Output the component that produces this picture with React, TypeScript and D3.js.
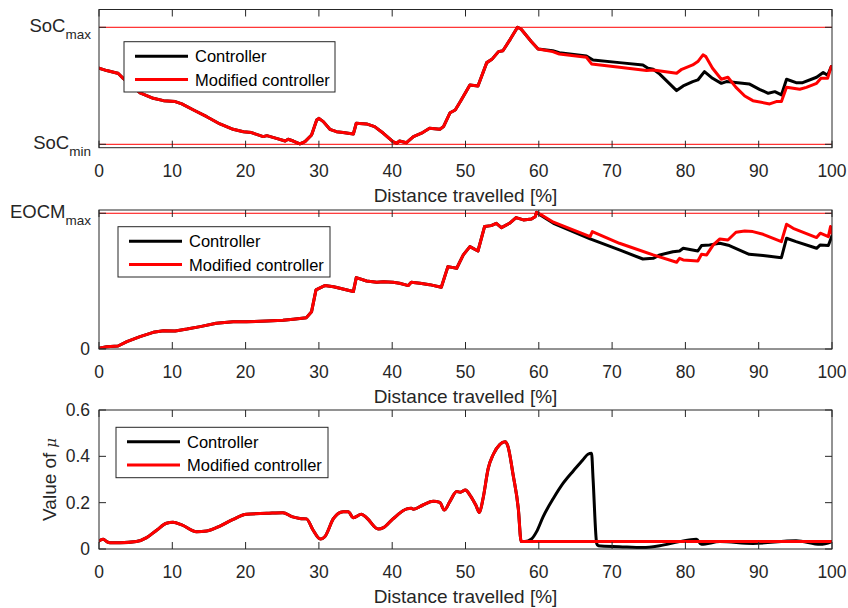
import React from "react";
import * as d3 from "d3";

type Pt = [number, number];

const xTicks = [0, 10, 20, 30, 40, 50, 60, 70, 80, 90, 100];
const legendLabels = ["Controller", "Modified controller"];
const seriesColors = ["#000000", "#ff0000"];
const xLabel = "Distance travelled [%]";

// ---- Panel 1: state of charge (SoC_min = 0, SoC_max = 1) ----
const socCommon: Pt[] = [
  [0, 0.65], [1.05, 0.63], [2.4, 0.61], [2.6, 0.607], [3.3, 0.564], [4.5, 0.5], [5.6, 0.44],
  [7.4, 0.393], [8.8, 0.373], [10.4, 0.365], [11.3, 0.345], [12.9, 0.293], [14.7, 0.236],
  [16.5, 0.174], [18.3, 0.128], [19.7, 0.108], [20.8, 0.1], [22.4, 0.066], [22.9, 0.074],
  [24.2, 0.051], [25.4, 0.028], [25.8, 0.043], [26.5, 0.028], [27.4, 0.003], [28.1, 0.023],
  [29.0, 0.08], [29.7, 0.208], [30.0, 0.222], [30.6, 0.194], [31.5, 0.128], [32.4, 0.108],
  [33.3, 0.1], [34.7, 0.088], [35.1, 0.18], [36.5, 0.174], [37.6, 0.151], [38.8, 0.094],
  [40.1, 0.023], [40.6, 0.009], [41.0, 0.028], [41.95, 0.014], [42.9, 0.066], [44.0, 0.095],
  [45.1, 0.137], [46.5, 0.128], [47.0, 0.151], [47.9, 0.27], [48.6, 0.293], [49.3, 0.365],
  [50.6, 0.507], [51.7, 0.499], [52.9, 0.698], [53.6, 0.726], [54.5, 0.792], [55.1, 0.8],
  [56.1, 0.897], [57.1, 1.0], [57.6, 0.983], [59.0, 0.877], [59.9, 0.815],
];
const socControllerTail: Pt[] = [
  [61.9, 0.8], [62.8, 0.783], [66.5, 0.755], [67.4, 0.721], [71.0, 0.698], [74.2, 0.678],
  [74.9, 0.65], [75.6, 0.641], [76.5, 0.6], [78.8, 0.459], [79.7, 0.499], [81.0, 0.536],
  [81.7, 0.55], [82.6, 0.621], [83.7, 0.564], [84.9, 0.521], [85.6, 0.536], [88.7, 0.516],
  [90.1, 0.47], [91.3, 0.436], [92.2, 0.45], [93.1, 0.422], [93.8, 0.556], [95.1, 0.527],
  [96.0, 0.527], [97.9, 0.573], [98.8, 0.613], [99.4, 0.59], [99.9, 0.664],
];
const socModifiedTail: Pt[] = [
  [61.9, 0.792], [62.8, 0.772], [66.5, 0.744], [67.2, 0.687], [71.0, 0.658], [74.7, 0.63],
  [75.6, 0.635], [78.8, 0.607], [79.5, 0.641], [81.0, 0.678], [81.7, 0.707], [82.4, 0.764],
  [82.8, 0.749], [83.7, 0.65], [84.9, 0.556], [85.8, 0.573], [86.9, 0.487], [88.1, 0.413],
  [89.2, 0.373], [91.5, 0.345], [92.4, 0.365], [93.1, 0.365], [93.8, 0.487], [95.6, 0.47],
  [96.5, 0.487], [97.9, 0.521], [98.5, 0.564], [99.4, 0.564], [99.9, 0.664],
];
const socController = socCommon.concat(socControllerTail);
const socModified = socCommon.concat(socModifiedTail);

// ---- Panel 2: EOCM (EOCM_max = 1) ----
const eocmCommon: Pt[] = [
  [0, 0.005], [1.05, 0.017], [2.6, 0.022], [3.8, 0.054], [5.6, 0.091], [7.4, 0.123],
  [8.8, 0.135], [10.4, 0.133], [12.0, 0.147], [13.8, 0.165], [16.0, 0.189], [18.3, 0.2],
  [20.1, 0.2], [22.9, 0.206], [25.1, 0.211], [26.5, 0.219], [28.3, 0.231], [29.0, 0.275],
  [29.6, 0.435], [30.8, 0.467], [32.0, 0.459], [34.7, 0.423], [35.1, 0.526], [36.5, 0.501],
  [37.9, 0.491], [38.8, 0.496], [40.1, 0.491], [41.0, 0.484], [42.2, 0.467], [42.6, 0.491],
  [43.8, 0.484], [45.1, 0.474], [46.7, 0.455], [47.6, 0.607], [48.8, 0.595], [49.7, 0.693],
  [50.6, 0.754], [51.7, 0.722], [52.6, 0.902], [53.5, 0.909], [54.2, 0.926], [54.9, 0.894],
  [56.0, 0.926], [56.9, 0.968], [57.9, 0.951], [59.0, 0.958], [59.5, 0.975], [59.7, 1.007],
];
const eocmControllerTail: Pt[] = [
  [60.2, 0.988], [62.0, 0.926], [67.0, 0.811], [71.0, 0.73], [74.2, 0.663], [75.6, 0.668],
  [76.5, 0.693], [78.3, 0.717], [79.2, 0.722], [79.7, 0.742], [81.7, 0.722], [82.2, 0.762],
  [83.3, 0.767], [84.7, 0.779], [86.0, 0.762], [88.7, 0.698], [90.6, 0.688], [93.1, 0.673],
  [93.8, 0.816], [95.1, 0.791], [97.9, 0.742], [98.4, 0.767], [99.5, 0.762], [100, 0.835],
];
const eocmModifiedTail: Pt[] = [
  [60.2, 0.993], [62.0, 0.934], [67.0, 0.828], [67.3, 0.865], [71.0, 0.779], [75.6, 0.693],
  [78.8, 0.639], [79.2, 0.668], [79.7, 0.656], [81.7, 0.649], [82.2, 0.698], [82.9, 0.693],
  [83.8, 0.767], [84.7, 0.811], [85.8, 0.803], [86.9, 0.86], [88.1, 0.87], [89.2, 0.865],
  [90.6, 0.845], [93.1, 0.791], [93.8, 0.919], [94.7, 0.889], [97.9, 0.821], [98.4, 0.853],
  [99.5, 0.828], [99.8, 0.902], [100, 0.853],
];
const eocmController = eocmCommon.concat(eocmControllerTail);
const eocmModified = eocmCommon.concat(eocmModifiedTail);

// ---- Panel 3: value of mu ----
const muTicks = [0, 0.2, 0.4, 0.6];
const muCommon: Pt[] = [
  [0, 0.035], [0.6, 0.042], [1.05, 0.032], [1.5, 0.027], [2.9, 0.027], [5.1, 0.032],
  [6.5, 0.049], [7.9, 0.082], [9.2, 0.111], [10.1, 0.115], [11.3, 0.104], [13.3, 0.075],
  [14.7, 0.078], [16.5, 0.099], [18.3, 0.128], [20.1, 0.15], [22.9, 0.154], [25.1, 0.157],
  [26.3, 0.14], [27.4, 0.132], [28.3, 0.13], [29.2, 0.082], [30.2, 0.043], [30.8, 0.053],
  [32.0, 0.132], [33.3, 0.161], [34.0, 0.161], [34.7, 0.135], [35.8, 0.15], [36.5, 0.135],
  [38.1, 0.086], [38.8, 0.092], [40.1, 0.13], [42.0, 0.173], [42.6, 0.176], [42.9, 0.172],
  [44.2, 0.19], [45.6, 0.206], [46.5, 0.201], [47.1, 0.168], [47.9, 0.207], [48.8, 0.248],
  [49.3, 0.245], [50.0, 0.255], [50.6, 0.233], [51.4, 0.19], [51.9, 0.158], [52.4, 0.219],
  [53.1, 0.348], [53.8, 0.409], [54.7, 0.452], [55.4, 0.463], [55.8, 0.442], [56.5, 0.319],
  [57.2, 0.176], [57.6, 0.032], [58.1, 0.032],
];
const muControllerTail: Pt[] = [
  [59.0, 0.043], [59.7, 0.075], [60.6, 0.14], [62.0, 0.219], [63.3, 0.283], [64.7, 0.337],
  [66.0, 0.384], [66.7, 0.409], [67.2, 0.413], [67.4, 0.305], [67.9, 0.024], [68.1, 0.014],
  [71.0, 0.01], [74.2, 0.006], [76.5, 0.014], [79.2, 0.032], [81.5, 0.042], [82.2, 0.02],
  [84.7, 0.032], [89.2, 0.024], [95.1, 0.036], [98.4, 0.02], [100, 0.032],
];
const muModifiedTail: Pt[] = [[100, 0.032]];
const muController = muCommon.concat(muControllerTail);
const muModified = muCommon.concat(muModifiedTail);

const FONT = "'Liberation Sans', Arial, Helvetica, sans-serif";
const AX = "#262626";
const X0 = 99;
const X1 = 832;

type YTick = { v: number; main?: string; sub?: string; label?: string };

type PanelProps = {
  top: number;
  bottom: number;
  yDomain: [number, number];
  yTicks: YTick[];
  limits: number[];
  series: Pt[][];
  legend: { x: number; y: number; w: number; h: number };
  yLabel?: string;
  smooth?: boolean;
  clipId: string;
};

function Panel(p: PanelProps) {
  const x = d3.scaleLinear().domain([0, 100]).range([X0, X1]);
  const y = d3.scaleLinear().domain(p.yDomain).range([p.bottom, p.top]);
  const line = d3
    .line<Pt>()
    .x((d) => x(d[0]))
    .y((d) => y(d[1]))
    .curve(p.smooth ? d3.curveMonotoneX : d3.curveLinear);
  const tl = 7;
  const lg = p.legend;
  return (
    <g>
      <defs>
        <clipPath id={p.clipId}>
          <rect x={X0} y={p.top} width={X1 - X0} height={p.bottom - p.top} />
        </clipPath>
      </defs>
      <rect x={X0} y={p.top} width={X1 - X0} height={p.bottom - p.top} fill="#fff" />
      {p.limits.map((v, i) => (
        <line key={i} x1={X0} x2={X1} y1={y(v)} y2={y(v)} stroke="#ff0000" strokeWidth={1} />
      ))}
      <g clipPath={`url(#${p.clipId})`}>
        {p.series.map((s, i) => (
          <path
            key={i}
            d={line(s) || ""}
            fill="none"
            stroke={seriesColors[i]}
            strokeWidth={3}
            strokeLinejoin="round"
            strokeLinecap="round"
          />
        ))}
      </g>
      <rect x={X0} y={p.top} width={X1 - X0} height={p.bottom - p.top} fill="none" stroke={AX} strokeWidth={1} />
      {xTicks.map((t) => (
        <g key={t}>
          <line x1={x(t)} x2={x(t)} y1={p.bottom} y2={p.bottom - tl} stroke={AX} />
          <line x1={x(t)} x2={x(t)} y1={p.top} y2={p.top + tl} stroke={AX} />
          <text x={x(t)} y={p.bottom + 29} textAnchor="middle" fontSize={17.5} fill={AX} fontFamily={FONT}>
            {t}
          </text>
        </g>
      ))}
      {p.yTicks.map((t, i) => (
        <g key={i}>
          <line x1={X0} x2={X0 + tl} y1={y(t.v)} y2={y(t.v)} stroke={AX} />
          <line x1={X1} x2={X1 - tl} y1={y(t.v)} y2={y(t.v)} stroke={AX} />
          {t.label !== undefined ? (
            <text x={X0 - 9} y={y(t.v) + 6} textAnchor="end" fontSize={17.5} fill={AX} fontFamily={FONT}>
              {t.label}
            </text>
          ) : (
            <text x={X0 - 8} y={y(t.v) + 5} textAnchor="end" fontSize={18.5} fill={AX} fontFamily={FONT}>
              {t.main}
              <tspan fontSize={13.5} dy={7}>
                {t.sub}
              </tspan>
            </text>
          )}
        </g>
      ))}
      <text
        x={(X0 + X1) / 2}
        y={p.bottom + 54}
        textAnchor="middle"
        fontSize={19}
        fill={AX}
        fontFamily={FONT}
      >
        {xLabel}
      </text>
      {p.yLabel && (
        <text
          transform={`translate(56,${(p.top + p.bottom) / 2}) rotate(-90)`}
          textAnchor="middle"
          fontSize={19}
          fill={AX}
          fontFamily={FONT}
        >
          {p.yLabel}
          <tspan fontStyle="italic" fontFamily="'DejaVu Serif', serif" fontSize={15}> μ</tspan>
        </text>
      )}
      <rect x={lg.x} y={lg.y} width={lg.w} height={lg.h} fill="#fff" stroke={AX} strokeWidth={1} />
      {legendLabels.map((l, i) => {
        const ly = lg.y + 14.5 + i * 23.3;
        return (
          <g key={l}>
            <line x1={lg.x + 11} x2={lg.x + 64} y1={ly} y2={ly} stroke={seriesColors[i]} strokeWidth={3} />
            <text x={lg.x + 71} y={ly + 6} fontSize={16.5} fill="#000" fontFamily={FONT}>
              {l}
            </text>
          </g>
        );
      })}
    </g>
  );
}

export default function App() {
  return (
    <svg
      width={848}
      height={608}
      style={{ position: "absolute", left: 0, top: 0, background: "#fff" }}
    >
      <rect width={848} height={608} fill="#fff" />
      <Panel
        clipId="c1"
        top={9.5}
        bottom={147.7}
        yDomain={[-0.029, 1.152]}
        yTicks={[
          { v: 0, main: "SoC", sub: "min" },
          { v: 1, main: "SoC", sub: "max" },
        ]}
        limits={[0, 1]}
        series={[socController, socModified]}
        legend={{ x: 124, y: 41.7, w: 211, h: 50.3 }}
      />
      <Panel
        clipId="c2"
        top={210}
        bottom={349}
        yDomain={[0, 1.024]}
        yTicks={[
          { v: 0, label: "0" },
          { v: 1, main: "EOCM", sub: "max" },
        ]}
        limits={[1]}
        series={[eocmController, eocmModified]}
        legend={{ x: 118, y: 226.7, w: 212, h: 50.3 }}
      />
      <Panel
        clipId="c3"
        top={410}
        bottom={549}
        yDomain={[0, 0.6]}
        yTicks={muTicks.map((v) => ({ v, label: String(v) }))}
        limits={[]}
        series={[muController, muModified]}
        legend={{ x: 116, y: 427.3, w: 212, h: 50.4 }}
        yLabel="Value of"
        smooth
      />
    </svg>
  );
}
